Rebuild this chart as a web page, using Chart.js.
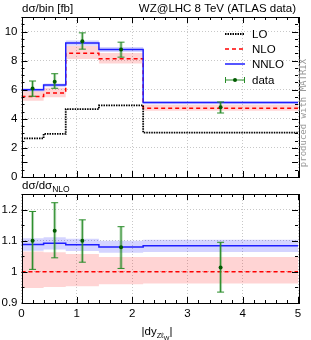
<!DOCTYPE html>
<html>
<head>
<meta charset="utf-8">
<script src="https://cdn.jsdelivr.net/npm/chart.js@4.4.1/dist/chart.umd.min.js"></script>
<style>
  html, body { margin: 0; padding: 0; background: #fff; }
  #wrap { position: relative; width: 311px; height: 340px; }
  canvas { position: absolute; left: 0; top: 0; }
</style>
</head>
<body>
<div id="wrap">
  <canvas id="upper" width="311" height="340"></canvas>
  <canvas id="lower" width="311" height="340"></canvas>
</div>
<script>
// bins in |dy|
const binEdges = [0, 0.4, 0.8, 1.4, 2.2, 5];
const dataX = [0.2, 0.6, 1.1, 1.8, 3.6];

// dsigma/bin [fb]
const loVals = [2.65, 2.96, 4.67, 4.92, 3.05];
const nloVals = [5.53, 5.77, 8.51, 8.13, 4.73];
const nloUp = [5.89, 6.13, 9.0, 8.52, 4.96];
const nloDown = [5.24, 5.49, 8.12, 7.80, 4.55];
const nnloVals = [6.0, 6.32, 9.22, 8.77, 5.12];
const nnloUp = [6.11, 6.43, 9.38, 8.93, 5.21];
const nnloDown = [5.87, 6.19, 9.03, 8.59, 5.01];
const dataVals = [6.08, 6.55, 9.34, 8.77, 4.79];
const dataUp = [6.6, 7.1, 9.91, 9.27, 5.16];
const dataDown = [5.55, 6.1, 8.79, 8.24, 4.4];

// ratio to NLO
const rNlo = [1, 1, 1, 1, 1];
const rNloUp = [1.065, 1.063, 1.057, 1.048, 1.048];
const rNloDown = [0.948, 0.951, 0.954, 0.96, 0.963];
const rNnlo = [1.088, 1.092, 1.087, 1.08, 1.084];
const rNnloUp = [1.108, 1.111, 1.106, 1.1, 1.103];
const rNnloDown = [1.068, 1.072, 1.067, 1.061, 1.064];
const rData = [1.10, 1.132, 1.10, 1.079, 1.014];
const rDataUp = [1.194, 1.222, 1.167, 1.145, 1.095];
const rDataDown = [1.008, 1.045, 1.031, 1.011, 0.935];

// ticks
const xTicks = [0, 1, 2, 3, 4, 5];
const yTicksUpper = [0, 2, 4, 6, 8, 10];
const yTicksLower = [0.9, 1, 1.1, 1.2];

const FONT = 'Liberation Sans, Arial, sans-serif';
const RED = 'rgb(255,0,0)';
const BLUE = 'rgb(30,30,255)';
const PINK = 'rgba(255,0,0,0.17)';
const LBLUE = 'rgba(0,0,255,0.17)';
const GREEN = 'rgb(40,140,40)';

// histogram points from bin edges
const steps = (vals) => binEdges.map((e, i) => ({ x: e, y: vals[Math.min(i, vals.length - 1)] }));

const lineSet = (vals, color, dash, width) => ({
    data: steps(vals), borderColor: color, borderWidth: width, borderDash: dash,
    stepped: true, pointRadius: 0, fill: false
});
const bandSet = (lo, hi, color) => [
    { data: steps(lo), borderWidth: 0, borderColor: 'transparent', stepped: true, pointRadius: 0, fill: false },
    { data: steps(hi), borderWidth: 0, borderColor: 'transparent', stepped: true, pointRadius: 0, fill: '-1', backgroundColor: color }
];

function line(ctx, x1, y1, x2, y2) {
    ctx.beginPath(); ctx.moveTo(x1, y1); ctx.lineTo(x2, y2); ctx.stroke();
}

// inward ticks on all four sides plus the frame
function drawFrame(chart, yMinorStep, yMin, yMax) {
    const { ctx, chartArea: a, scales: { x, y } } = chart;
    ctx.save();
    ctx.strokeStyle = '#000';
    ctx.lineWidth = 1;
    for (let i = 0; i <= 25; i++) {
        const v = i * 0.2;
        const px = Math.round(x.getPixelForValue(v)) + 0.5;
        const len = i % 5 === 0 ? 6 : 3;
        line(ctx, px, a.bottom, px, a.bottom - len);
        line(ctx, px, a.top, px, a.top + len);
    }
    const n = Math.round((yMax - yMin) / yMinorStep);
    for (let i = 0; i <= n; i++) {
        const v = yMin + i * yMinorStep;
        const py = Math.round(y.getPixelForValue(v)) + 0.5;
        const major = yTicksUpper.concat(yTicksLower).some(t => Math.abs(t - v) < 1e-6) && v < yMax;
        const len = major ? 6 : 3;
        line(ctx, a.left, py, a.left + len, py);
        line(ctx, a.right, py, a.right - len, py);
    }
    ctx.strokeRect(Math.round(a.left) + 0.5, Math.round(a.top) + 0.5,
        Math.round(a.right - a.left), Math.round(a.bottom - a.top));
    ctx.restore();
}

function drawErrors(chart, vals, up, down) {
    const { ctx, scales: { x, y } } = chart;
    ctx.save();
    dataX.forEach((xv, i) => {
        const px = x.getPixelForValue(xv);
        const py = y.getPixelForValue(vals[i]);
        const pu = y.getPixelForValue(up[i]);
        const pd = y.getPixelForValue(down[i]);
        ctx.strokeStyle = 'rgba(40,140,40,0.35)';
        ctx.lineWidth = 3;
        line(ctx, px, pu, px, pd);
        ctx.strokeStyle = GREEN;
        ctx.lineWidth = 1;
        line(ctx, px, pu, px, pd);
        line(ctx, px - 3.5, pu, px + 3.5, pu);
        line(ctx, px - 3.5, pd, px + 3.5, pd);
        ctx.fillStyle = 'rgb(0,90,0)';
        ctx.beginPath(); ctx.arc(px, py, 2, 0, Math.PI * 2); ctx.fill();
    });
    ctx.restore();
}

const upperDecor = {
    id: 'upperDecor',
    afterDatasetsDraw(chart) {
        drawErrors(chart, dataVals, dataUp, dataDown);
        drawFrame(chart, 0.5, 0, 11);
        const ctx = chart.ctx;
        ctx.save();
        ctx.fillStyle = '#000';
        ctx.font = '11.5px ' + FONT;
        ctx.textBaseline = 'alphabetic';
        ctx.textAlign = 'left';
        ctx.fillText('dσ/bin [fb]', 22, 12);
        ctx.textAlign = 'right';
        ctx.fillText('WZ@LHC 8 TeV (ATLAS data)', 296, 12);

        // legend
        const lx1 = 225, lx2 = 245, tx = 252;
        const rows = [34, 49, 64, 80];
        ctx.textAlign = 'left';
        ctx.textBaseline = 'middle';
        ctx.lineWidth = 1.8;
        ctx.strokeStyle = '#000'; ctx.setLineDash([1.5, 1]);
        line(ctx, lx1, rows[0], lx2, rows[0]);
        ctx.lineWidth = 1.5;
        ctx.strokeStyle = RED; ctx.setLineDash([4, 3]);
        line(ctx, lx1, rows[1], lx2, rows[1]);
        ctx.strokeStyle = BLUE; ctx.setLineDash([]);
        line(ctx, lx1, rows[2], lx2, rows[2]);
        ctx.strokeStyle = GREEN; ctx.lineWidth = 1;
        line(ctx, lx1, rows[3], lx2, rows[3]);
        line(ctx, lx1 + 0.5, rows[3] - 3, lx1 + 0.5, rows[3] + 3);
        line(ctx, lx2 - 0.5, rows[3] - 3, lx2 - 0.5, rows[3] + 3);
        ctx.fillStyle = 'rgb(0,90,0)';
        ctx.beginPath(); ctx.arc((lx1 + lx2) / 2, rows[3], 2, 0, Math.PI * 2); ctx.fill();
        ctx.fillStyle = '#000';
        ['LO', 'NLO', 'NNLO', 'data'].forEach((t, i) => ctx.fillText(t, tx, rows[i] + 0.5));

        // side note
        ctx.translate(304, 113);
        ctx.rotate(-Math.PI / 2);
        ctx.textAlign = 'center';
        ctx.font = '9px DejaVu Sans Mono, monospace';
        ctx.fillStyle = '#999';
        ctx.fillText('produced with MATRIX', 0, 0);
        ctx.restore();
    }
};

const lowerDecor = {
    id: 'lowerDecor',
    afterDatasetsDraw(chart) {
        drawErrors(chart, rData, rDataUp, rDataDown);
        drawFrame(chart, 0.05, 0.9, 1.25);
        const ctx = chart.ctx;
        ctx.save();
        ctx.fillStyle = '#000';
        ctx.textBaseline = 'alphabetic';
        ctx.textAlign = 'left';
        ctx.font = '11.5px ' + FONT;
        ctx.fillText('dσ/dσ', 22, 189);
        const w = ctx.measureText('dσ/dσ').width;
        ctx.font = '8.5px ' + FONT;
        ctx.fillText('NLO', 22 + w, 192);

        // x axis title |dy_{ZlW}|
        const parts = [['|dy', 11.5, 0], ['Zℓ', 7.5, 3], ['W', 6, 4.5], ['|', 11.5, 0]];
        let total = 0;
        parts.forEach(p => { ctx.font = p[1] + 'px ' + FONT; total += ctx.measureText(p[0]).width; });
        let cx = 157 - total / 2;
        parts.forEach(p => {
            ctx.font = p[1] + 'px ' + FONT;
            ctx.fillText(p[0], cx, 335 + p[2]);
            cx += ctx.measureText(p[0]).width;
        });
        ctx.restore();
    }
};

const xScale = (showLabels, fitHeight) => ({
    type: 'linear', min: 0, max: 5,
    afterBuildTicks: (s) => { s.ticks = xTicks.map(v => ({ value: v })); },
    afterFit: (s) => { s.height = fitHeight; },
    grid: { color: '#c8c8c8', lineWidth: 1, drawTicks: false },
    border: { display: false, dash: [1, 2] },
    ticks: { display: showLabels, padding: 4, color: '#000', font: { family: FONT, size: 11.5 },
             maxRotation: 0, callback: (v) => String(v) }
});
const yScale = (min, max, ticks) => ({
    type: 'linear', min: min, max: max,
    afterBuildTicks: (s) => { s.ticks = ticks.map(v => ({ value: v })); },
    afterFit: (s) => { s.width = 21.5; },
    grid: { color: '#c8c8c8', lineWidth: 1, drawTicks: false },
    border: { display: false, dash: [1, 2] },
    ticks: { padding: 4, color: '#000', font: { family: FONT, size: 11.5 },
             callback: (v) => String(+v.toFixed(2)) }
});

const common = {
    responsive: false, animation: false, devicePixelRatio: 1,
    plugins: { legend: { display: false }, tooltip: { enabled: false } }
};

new Chart(document.getElementById('upper'), {
    type: 'line',
    data: {
        datasets: [
            lineSet(loVals, '#000', [1.5, 1], 1.8),
            lineSet(nnloVals, BLUE, [], 1.5),
            lineSet(nloVals, RED, [4, 3], 1.5),
            ...bandSet(nnloDown, nnloUp, LBLUE),
            ...bandSet(nloDown, nloUp, PINK)
        ]
    },
    options: {
        ...common,
        layout: { padding: { top: 17, left: 0, right: 13, bottom: 163 } },
        scales: { x: xScale(false, 0), y: yScale(0, 11, yTicksUpper) }
    },
    plugins: [upperDecor]
});

new Chart(document.getElementById('lower'), {
    type: 'line',
    data: {
        datasets: [
            lineSet(rNnlo, BLUE, [], 1.5),
            lineSet(rNlo, RED, [4, 3], 1.5),
            ...bandSet(rNnloDown, rNnloUp, LBLUE),
            ...bandSet(rNloDown, rNloUp, PINK)
        ]
    },
    options: {
        ...common,
        layout: { padding: { top: 194, left: 0, right: 13, bottom: 17 } },
        scales: { x: xScale(true, 20), y: yScale(0.9, 1.25, yTicksLower) }
    },
    plugins: [lowerDecor]
});
</script>
</body>
</html>
